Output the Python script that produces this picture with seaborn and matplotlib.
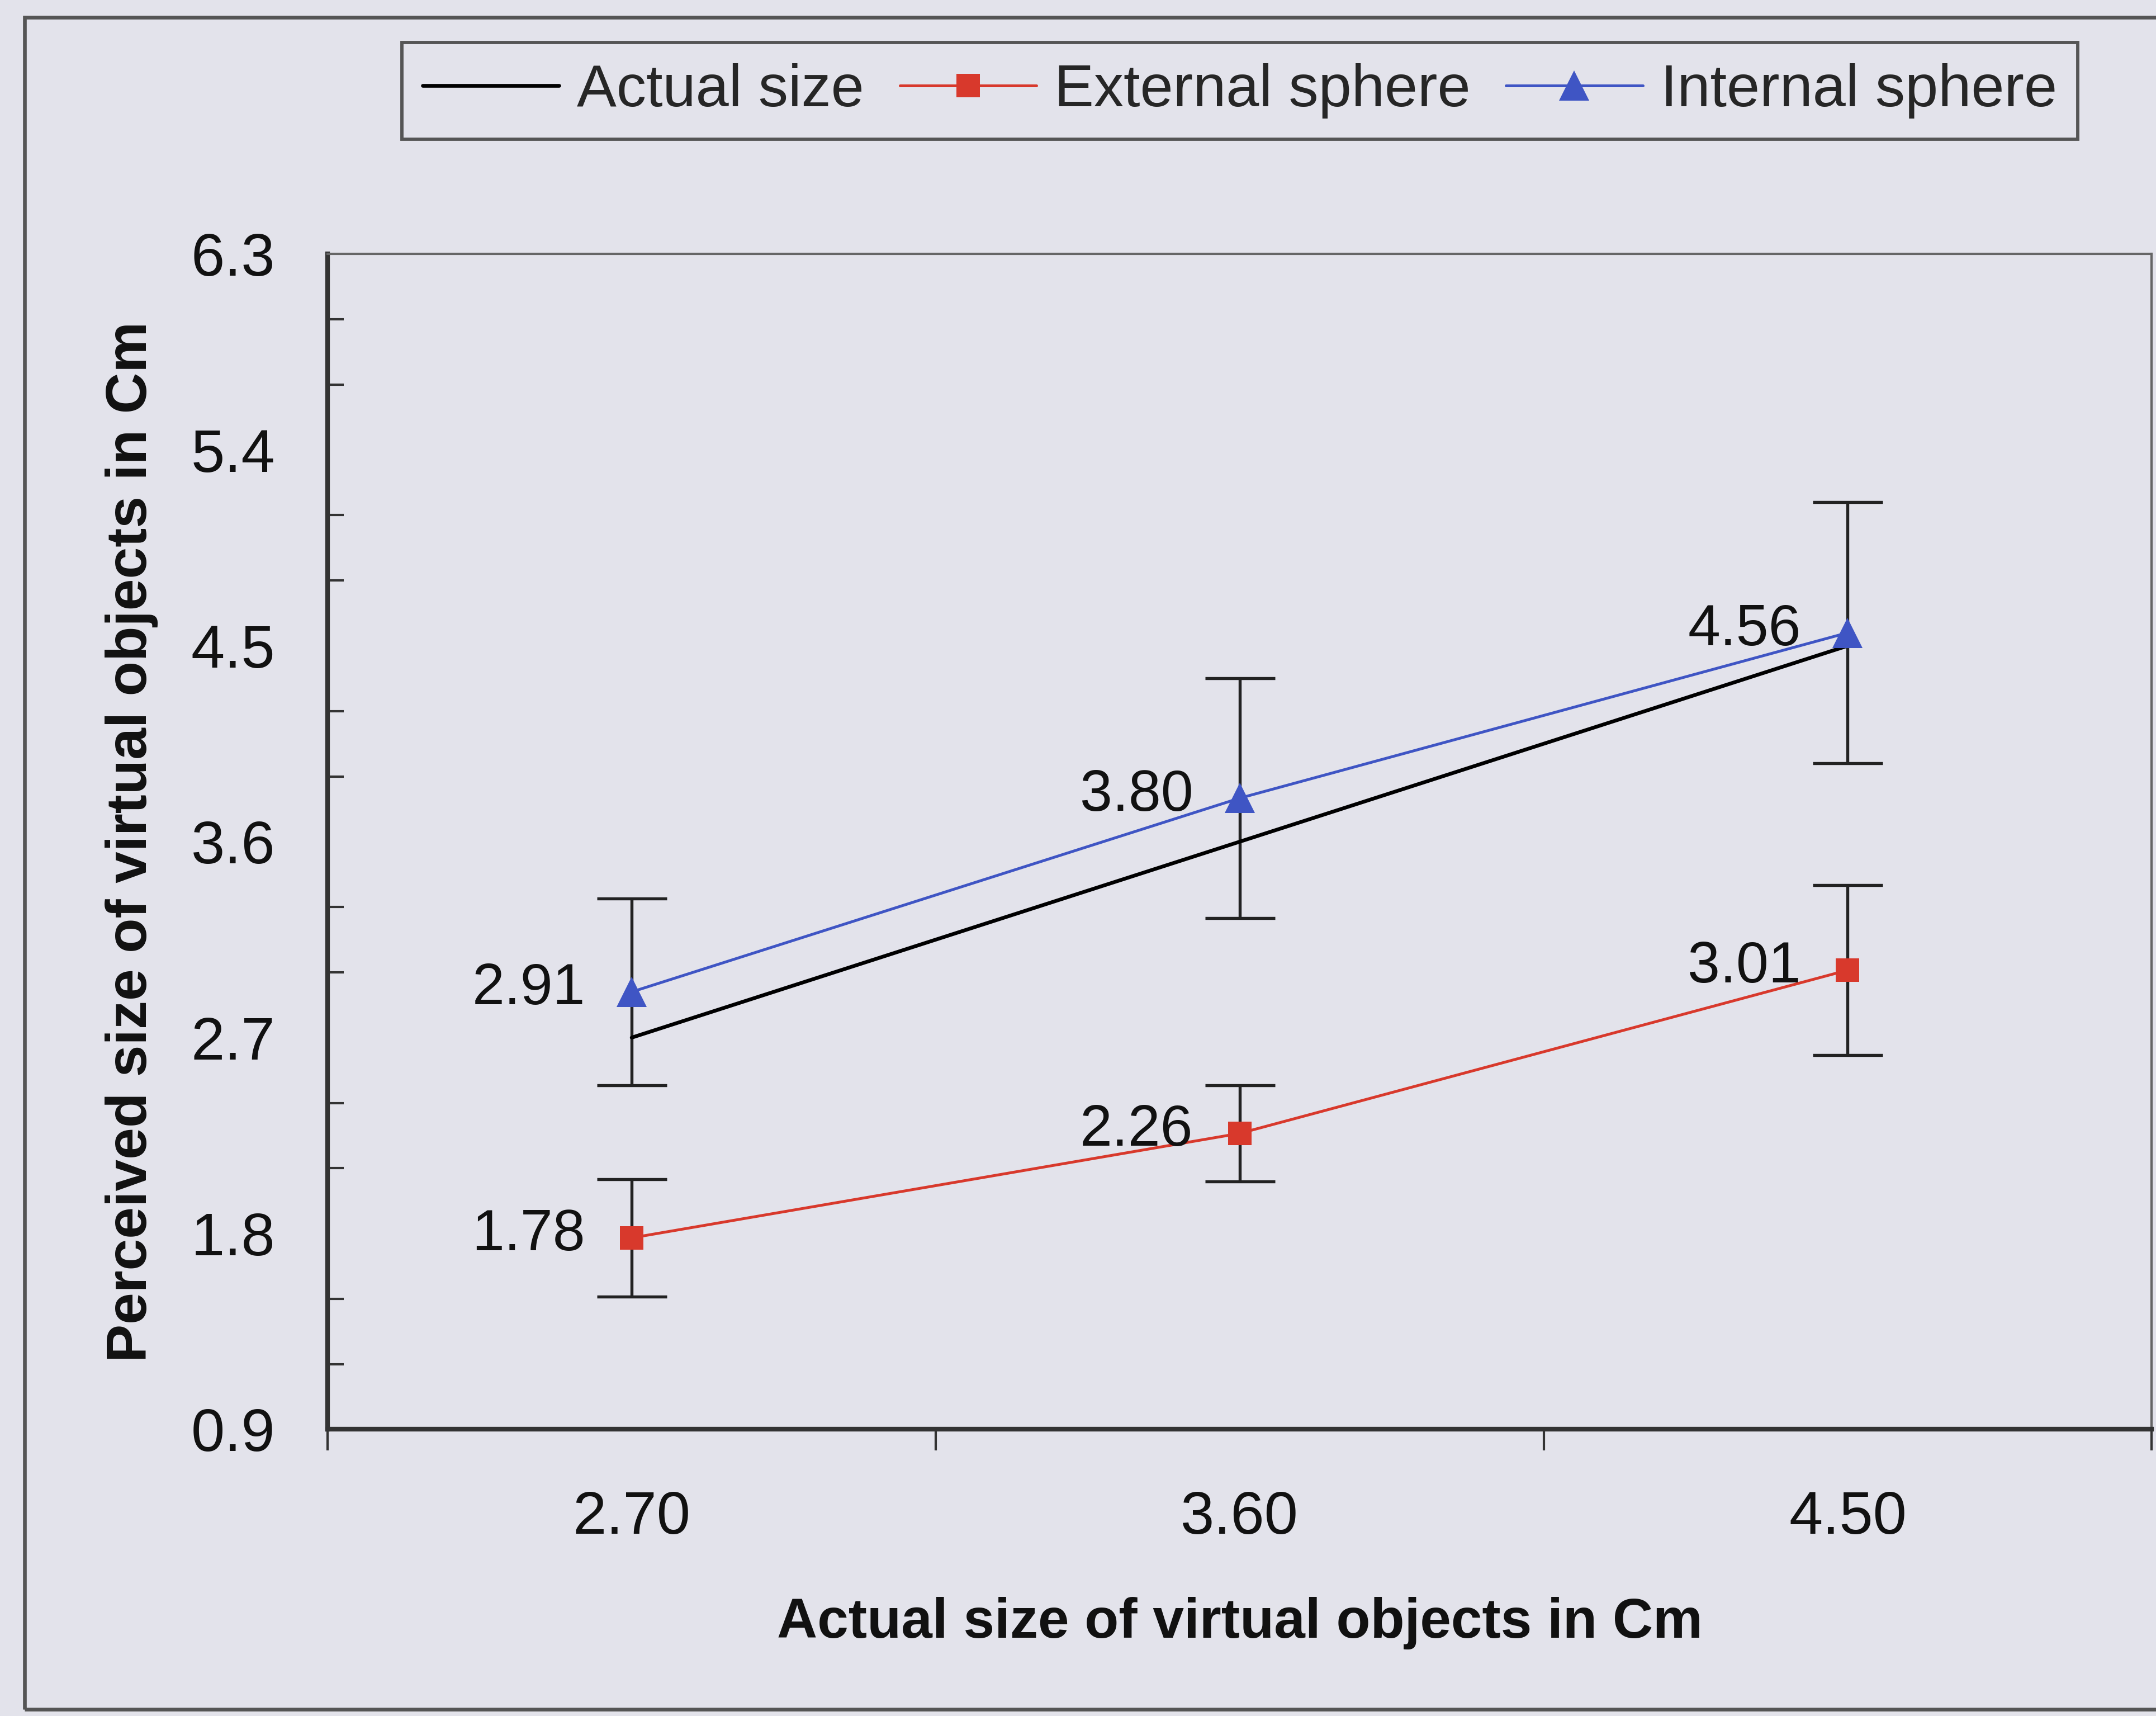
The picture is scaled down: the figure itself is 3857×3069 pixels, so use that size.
"""
Perceived vs actual size of virtual objects
"""

import numpy as np
import pandas as pd
import seaborn as sns
import matplotlib
matplotlib.use("Agg")
import matplotlib.pyplot as plt
from matplotlib.patches import Rectangle

# data
sizes = ["2.70", "3.60", "4.50"]
actual = [2.70, 3.60, 4.50]
external = [1.78, 2.26, 3.01]
external_err = [0.27, 0.22, 0.39]
internal = [2.91, 3.80, 4.56]
internal_err = [0.43, 0.55, 0.60]
y_ticks = [0.9, 1.8, 2.7, 3.6, 4.5, 5.4, 6.3]

bg = "#e3e3eb"
red = "#d8392c"
blue = "#3f55c4"

sns.set_theme(style="white")
plt.rcParams["font.family"] = ["Liberation Sans", "DejaVu Sans"]

df = pd.DataFrame({
    "size": sizes * 3,
    "value": actual + external + internal,
    "series": ["Actual size"] * 3 + ["External sphere"] * 3 + ["Internal sphere"] * 3,
})

fig = plt.figure(figsize=(3857 / 300, 3069 / 300), dpi=300, facecolor=bg)
ax = fig.add_axes([0.152, 0.167, 0.846, 0.685])
ax.set_facecolor(bg)

# outer frame of the chart area
fig.patches.append(Rectangle((0.0115, 0.004), 1.2, 0.986, transform=fig.transFigure,
                             fill=False, edgecolor="#555555", lw=1.6))

# lines
sns.lineplot(data=df[df.series == "Actual size"], x="size", y="value", ax=ax,
             color="black", lw=1.6, label="Actual size", sort=False)
sns.lineplot(data=df[df.series == "External sphere"], x="size", y="value", ax=ax,
             color=red, lw=1.2, marker="s", markersize=10, markeredgewidth=0,
             label="External sphere", sort=False)
sns.lineplot(data=df[df.series == "Internal sphere"], x="size", y="value", ax=ax,
             color=blue, lw=1.2, marker="^", markersize=13, markeredgewidth=0,
             label="Internal sphere", sort=False)

# error bars
pos = np.arange(len(sizes))
ax.errorbar(pos, internal, yerr=internal_err, fmt="none", ecolor="#222222",
            elinewidth=1.3, capsize=15, capthick=1.3, zorder=1)
ax.errorbar(pos, external, yerr=external_err, fmt="none", ecolor="#222222",
            elinewidth=1.3, capsize=15, capthick=1.3, zorder=1)

# value labels
for i in range(len(sizes)):
    ax.annotate(f"{internal[i]:.2f}", (pos[i], internal[i]), xytext=(-20, 1),
                textcoords="offset points", ha="right", va="center", fontsize=25,
                color="#111111")
    ax.annotate(f"{external[i]:.2f}", (pos[i], external[i]), xytext=(-20, 1),
                textcoords="offset points", ha="right", va="center", fontsize=25,
                color="#111111")

# axes
ax.set_xlim(-0.5, 2.5)
ax.set_ylim(0.9, 6.3)
ax.set_yticks(y_ticks)
ax.set_yticklabels([f"{t:.1f}" for t in y_ticks])
ax.set_yticks(np.arange(0.9, 6.31, 0.3), minor=True)
ax.set_xticks(pos)
ax.set_xticklabels(sizes)
ax.set_xticks([-0.5, 0.5, 1.5, 2.5], minor=True)

ax.tick_params(axis="y", which="major", direction="inout", length=15, width=1.2,
               labelsize=26, pad=15, colors="#333333", labelcolor="#111111")
ax.tick_params(axis="y", which="minor", direction="in", length=7, width=1.0,
               colors="#333333", left=True)
ax.tick_params(axis="x", which="major", length=0, labelsize=26, pad=26,
               labelcolor="#111111")
ax.tick_params(axis="x", which="minor", direction="out", length=9, width=1.0,
               colors="#333333", bottom=True)

for side in ["left", "bottom"]:
    ax.spines[side].set_color("#333333")
    ax.spines[side].set_linewidth(2.0)
for side in ["top", "right"]:
    ax.spines[side].set_color("#666666")
    ax.spines[side].set_linewidth(1.0)

ax.set_xlabel("Actual size of virtual objects in Cm", fontsize=24, fontweight="bold",
              labelpad=22, color="#111111")
ax.set_ylabel("Perceived size of virtual objects in Cm", fontsize=24.5, fontweight="bold",
              labelpad=14, color="#111111")

# legend at top
ax.get_legend().remove()
handles, labels = ax.get_legend_handles_labels()
leg = fig.legend(handles, labels, loc="center", bbox_to_anchor=(0.575, 0.947), ncol=3,
                 fontsize=25.5, frameon=True, fancybox=False, framealpha=1,
                 facecolor=bg, edgecolor="#555555", handlelength=2.3,
                 columnspacing=0.6, handletextpad=0.3, borderpad=0.35)
leg.get_frame().set_linewidth(1.4)

fig.savefig("out.png", dpi=300, facecolor=bg)
